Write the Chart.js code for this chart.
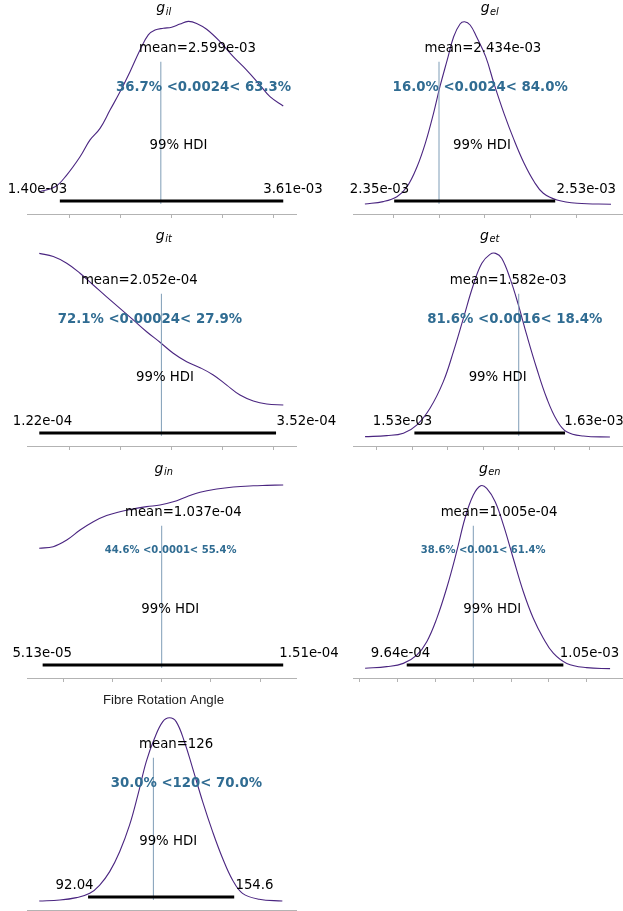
<!DOCTYPE html>
<html>
<head>
<meta charset="utf-8">
<script src="https://cdn.jsdelivr.net/npm/chart.js@4.4.1/dist/chart.umd.min.js"></script>
<style>
    html, body { margin: 0; padding: 0; background: #fff; overflow: hidden; }
    #page { position: relative; width: 623px; height: 911px; overflow: hidden; }
    #page canvas { position: absolute; left: 0; top: 0; }
</style>
</head>
<body>
<div id="page"></div>
<script>
// ---- values ----
// KDE curves (x in parameter units, y = relative density height)
const gIlX = [0.001209, 0.001363, 0.001477, 0.001608, 0.001706, 0.001804, 0.001902, 0.002000, 0.002098, 0.002196, 0.002277, 0.002343, 0.002424, 0.002506, 0.002588, 0.002669, 0.002751, 0.002849, 0.002980, 0.003110, 0.003241, 0.003372, 0.003470, 0.003600];
const gIlY = [0.110, 0.134, 0.192, 0.282, 0.365, 0.422, 0.512, 0.602, 0.701, 0.808, 0.882, 0.906, 0.915, 0.920, 0.936, 0.949, 0.939, 0.910, 0.849, 0.775, 0.709, 0.635, 0.578, 0.532];

const gElX = [0.002319, 0.002339, 0.002354, 0.002365, 0.002376, 0.002385, 0.002394, 0.002401, 0.002409, 0.002416, 0.002423, 0.002428, 0.002434, 0.002441, 0.002451, 0.002460, 0.002471, 0.002482, 0.002493, 0.002504, 0.002514, 0.002529, 0.002551, 0.002588];
const gElY = [0.049, 0.061, 0.085, 0.134, 0.233, 0.348, 0.496, 0.627, 0.759, 0.873, 0.936, 0.947, 0.931, 0.873, 0.775, 0.644, 0.496, 0.365, 0.250, 0.159, 0.102, 0.069, 0.053, 0.048];

const gItX = [0.0001207, 0.0001344, 0.0001475, 0.0001605, 0.0001734, 0.0001865, 0.0001995, 0.0002125, 0.0002256, 0.0002386, 0.0002516, 0.0002647, 0.0002777, 0.0002907, 0.0003038, 0.0003168, 0.0003298, 0.0003429, 0.0003591];
const gItY = [0.949, 0.933, 0.900, 0.851, 0.793, 0.735, 0.678, 0.621, 0.563, 0.511, 0.457, 0.415, 0.386, 0.350, 0.300, 0.251, 0.222, 0.207, 0.202];

const gEtX = [0.0015134, 0.0015256, 0.0015350, 0.0015425, 0.0015500, 0.0015575, 0.0015632, 0.0015688, 0.0015744, 0.0015792, 0.0015838, 0.0015870, 0.0015904, 0.0015951, 0.0015998, 0.0016045, 0.0016101, 0.0016158, 0.0016214, 0.0016270, 0.0016364, 0.0016514];
const gEtY = [0.046, 0.051, 0.063, 0.103, 0.186, 0.317, 0.465, 0.629, 0.793, 0.900, 0.944, 0.949, 0.925, 0.826, 0.695, 0.547, 0.383, 0.235, 0.128, 0.070, 0.049, 0.044];

const gInX = [0.0000502, 0.0000559, 0.0000614, 0.0000668, 0.0000722, 0.0000776, 0.0000830, 0.0000885, 0.0000939, 0.0000993, 0.0001047, 0.0001102, 0.0001156, 0.0001224, 0.0001291, 0.0001372, 0.0001427, 0.0001494];
const gInY = [0.639, 0.647, 0.680, 0.729, 0.770, 0.800, 0.819, 0.833, 0.844, 0.852, 0.868, 0.893, 0.915, 0.931, 0.941, 0.947, 0.949, 0.951];

const gEnX = [0.0009428, 0.0009542, 0.0009630, 0.0009701, 0.0009754, 0.0009807, 0.0009859, 0.0009912, 0.0009956, 0.0010000, 0.0010039, 0.0010071, 0.0010115, 0.0010159, 0.0010211, 0.0010264, 0.0010317, 0.0010370, 0.0010423, 0.0010494, 0.0010599, 0.0010723];
const gEnY = [0.048, 0.056, 0.072, 0.113, 0.179, 0.294, 0.442, 0.622, 0.787, 0.901, 0.947, 0.934, 0.869, 0.754, 0.590, 0.426, 0.294, 0.196, 0.122, 0.072, 0.051, 0.046];

const angleX = [71.14, 79.97, 87.09, 92.77, 97.03, 101.29, 105.56, 109.83, 113.37, 116.95, 120.49, 124.03, 126.88, 129.74, 133.28, 136.82, 141.09, 145.35, 149.62, 153.88, 158.15, 165.27, 175.21];
const angleY = [0.044, 0.049, 0.061, 0.082, 0.123, 0.189, 0.287, 0.419, 0.567, 0.731, 0.846, 0.928, 0.947, 0.928, 0.829, 0.698, 0.534, 0.386, 0.255, 0.148, 0.082, 0.053, 0.044];

const curvesX = [gIlX, gElX, gItX, gEtX, gInX, gEnX, angleX];
const curvesY = [gIlY, gElY, gItY, gEtY, gInY, gEnY, angleY];

// titles: [main, subscript]
const titles = [['g', 'il'], ['g', 'el'], ['g', 'it'], ['g', 'et'], ['g', 'in'], ['g', 'en'], ['Fibre Rotation Angle', '']];

// 99% HDI bar, reference value
const hdiLow = [0.00141, 0.002351, 0.0001207, 0.0015412, 0.0000516, 0.0009648, 92.04];
const hdiHigh = [0.0036, 0.002527, 0.000352, 0.0016261, 0.0001494, 0.0010476, 154.6];
const refValues = [0.0024, 0.0024, 0.00024, 0.0016, 0.0001, 0.001, 120];

// texts
const meanTexts = ['mean=2.599e-03', 'mean=2.434e-03', 'mean=2.052e-04', 'mean=1.582e-03', 'mean=1.037e-04', 'mean=1.005e-04', 'mean=126'];
const refTexts = ['36.7% <0.0024< 63.3%', '16.0% <0.0024< 84.0%', '72.1% <0.00024< 27.9%', '81.6% <0.0016< 18.4%', '44.6% <0.0001< 55.4%', '38.6% <0.001< 61.4%', '30.0% <120< 70.0%'];
const hdiLowTexts = ['1.40e-03', '2.35e-03', '1.22e-04', '1.53e-03', '5.13e-05', '9.64e-04', '92.04'];
const hdiHighTexts = ['3.61e-03', '2.53e-03', '3.52e-04', '1.63e-03', '1.51e-04', '1.05e-03', '154.6'];

// x axis ranges and tick marks
const axisMin = [0.001088, 0.002306, 0.0001087, 0.0015066, 0.00004524, 0.0009364, 65.9];
const axisMax = [0.003725, 0.0026, 0.0003715, 0.0016582, 0.0001546, 0.0010786, 181.05];
const tickValues = [
    [0.0015, 0.002, 0.0025, 0.003, 0.0035],
    [0.00235, 0.0024, 0.00245, 0.0025, 0.00255],
    [0.00015, 0.0002, 0.00025, 0.0003, 0.00035],
    [0.00152, 0.00154, 0.00156, 0.00158, 0.0016, 0.00162, 0.00164],
    [0.00006, 0.00008, 0.0001, 0.00012, 0.00014],
    [0.00094, 0.00096, 0.00098, 0.001, 0.00102, 0.00104, 0.00106],
    [80, 100, 120, 140, 160, 180]
];

// ---- layout ----
const PAGE_W = 623, PAGE_H = 915, TICK_LEN = 4;
const columns = [[27, 296], [353, 622]];
const rows = [[11, 214], [243, 446], [475, 678], [707, 910]];
// text centres along x, in each panel's own units
const labelAt = {
    mean: [0.002759, 0.002448, 0.0002184, 0.0015941, 0.0001088, 0.0010136, 129.74],
    ref: [0.002818, 0.002445, 0.0002287, 0.0015978, 0.0001036, 0.0010052, 134.14],
    hdi: [0.002573, 0.002447, 0.0002435, 0.0015881, 0.0001035, 0.0010100, 126.33],
    low: [0.001191, 0.002335, 0.0001238, 0.0015345, 0.0000514, 0.0009615, 86.24],
    high: [0.003695, 0.002561, 0.0003816, 0.0016424, 0.0001599, 0.0010614, 163.27]
};
const titleLevel = [0.993, 0.993, 1.015, 1.015, 1.01, 1.01, 1.015];
const refFontSize = [13.3, 13.3, 13.3, 13.3, 10, 10, 13.3];

const CURVE_COLOR = '#4a2580';
const REF_LINE_COLOR = '#7f9db7';
const REF_TEXT_COLOR = '#306c92';
const AXIS_COLOR = '#b3b3b3';
const FONT = '"DejaVu Sans", sans-serif';

function makeAnnotator(i) {
    return {
        id: 'annotate' + i,
        afterDatasetsDraw(chart) {
            const { ctx, chartArea, scales: { x, y } } = chart;
            const put = (text, at, level, font, color) => {
                ctx.font = font;
                ctx.fillStyle = color;
                ctx.fillText(text, x.getPixelForValue(at), y.getPixelForValue(level));
            };
            ctx.save();
            ctx.textAlign = 'center';
            ctx.textBaseline = 'alphabetic';
            put(meanTexts[i], labelAt.mean[i], 0.80, '13.3px ' + FONT, '#000');
            put(refTexts[i], labelAt.ref[i], refFontSize[i] < 13 ? 0.616 : 0.606,
                'bold ' + refFontSize[i] + 'px ' + FONT, REF_TEXT_COLOR);
            put('99% HDI', labelAt.hdi[i], 0.322, '13.3px ' + FONT, '#000');
            put(hdiLowTexts[i], labelAt.low[i], 0.105, '13.3px ' + FONT, '#000');
            put(hdiHighTexts[i], labelAt.high[i], 0.105, '13.3px ' + FONT, '#000');

            // panel title
            const [main, sub] = titles[i];
            const cx = (chartArea.left + chartArea.right) / 2 + 2;
            const ty = y.getPixelForValue(titleLevel[i]);
            ctx.textAlign = 'left';
            if (sub) {
                const mainFont = 'italic 14px ' + FONT;
                const subFont = 'italic 9.8px ' + FONT;
                ctx.font = mainFont;
                const w1 = ctx.measureText(main).width;
                ctx.font = subFont;
                const w2 = ctx.measureText(sub).width;
                const x0 = cx - (w1 + w2) / 2;
                ctx.fillStyle = '#000';
                ctx.font = mainFont;
                ctx.fillText(main, x0, ty);
                ctx.font = subFont;
                ctx.fillText(sub, x0 + w1 + 0.5, ty + 2.5);
            } else {
                ctx.font = '13.3px "Liberation Sans", Arial, sans-serif';
                ctx.fillStyle = '#222';
                ctx.textAlign = 'center';
                ctx.fillText(main, cx, ty);
            }
            ctx.restore();
        }
    };
}

function buildPanel(i) {
    const col = columns[i % 2];
    const row = rows[Math.floor(i / 2)];
    const canvas = document.createElement('canvas');
    canvas.width = PAGE_W;
    canvas.height = PAGE_H;
    document.getElementById('page').appendChild(canvas);

    const curve = curvesX[i].map((v, k) => ({ x: v, y: curvesY[i][k] }));

    new Chart(canvas.getContext('2d'), {
        type: 'line',
        data: {
            datasets: [
                {
                    data: [{ x: hdiLow[i], y: 0.064 }, { x: hdiHigh[i], y: 0.064 }],
                    borderColor: '#000',
                    borderWidth: 3,
                    borderCapStyle: 'butt',
                    pointRadius: 0,
                    tension: 0,
                    order: 1
                },
                {
                    data: [{ x: refValues[i], y: 0.05 }, { x: refValues[i], y: 0.75 }],
                    borderColor: REF_LINE_COLOR,
                    borderWidth: 1,
                    pointRadius: 0,
                    tension: 0,
                    order: 2
                },
                {
                    data: curve,
                    borderColor: CURVE_COLOR,
                    borderWidth: 1.1,
                    pointRadius: 0,
                    tension: 0.4,
                    fill: false,
                    order: 3
                }
            ]
        },
        options: {
            responsive: false,
            animation: false,
            devicePixelRatio: 1,
            events: [],
            layout: {
                padding: {
                    left: col[0],
                    right: PAGE_W - col[1],
                    top: row[0],
                    bottom: PAGE_H - row[1] - TICK_LEN
                }
            },
            plugins: {
                legend: { display: false },
                tooltip: { enabled: false },
                title: { display: false }
            },
            scales: {
                x: {
                    type: 'linear',
                    min: axisMin[i],
                    max: axisMax[i],
                    afterBuildTicks: (axis) => {
                        axis.ticks = tickValues[i].map(v => ({ value: v }));
                    },
                    ticks: { display: false },
                    grid: {
                        drawOnChartArea: false,
                        drawTicks: true,
                        tickLength: TICK_LEN,
                        tickColor: AXIS_COLOR,
                        tickWidth: 1
                    },
                    border: { display: true, color: AXIS_COLOR, width: 1 }
                },
                y: {
                    display: false,
                    min: 0,
                    max: 1
                }
            }
        },
        plugins: [makeAnnotator(i)]
    });
}

document.addEventListener('DOMContentLoaded', () => {
    for (let i = 0; i < 7; i++) buildPanel(i);
});
</script>
</body>
</html>
